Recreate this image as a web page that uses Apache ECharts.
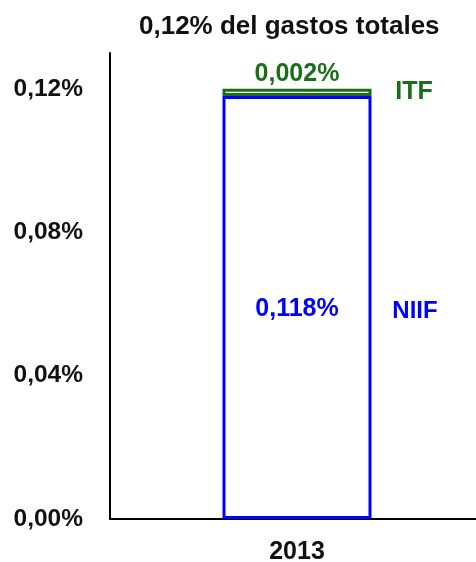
<!DOCTYPE html>
<html><head><meta charset="utf-8">
<script src="https://cdn.jsdelivr.net/npm/echarts@6/dist/echarts.min.js"></script>
<style>html,body{margin:0;padding:0;background:#fff}#c{width:476px;height:562px}</style>
</head><body><div id="c"></div>
<script>
const categories = ['2013'];
const niifValues = [0.118];
const itfValues = [0.002];
const yTicks = [0, 0.04, 0.08, 0.12];
const titleText = '0,12% del gastos totales';

const fmtPct = (v, d) => v.toFixed(d).replace('.', ',') + '%';
const FONT = '"Liberation Sans", Arial, sans-serif';
const BLUE = '#0000FF';
const GREEN = '#1A6E1A';

const chart = echarts.init(document.getElementById('c'), null, {renderer: 'canvas'});
chart.setOption({
  animation: false,
  title: {
    text: titleText, left: 134, top: 9,
    textStyle: {fontFamily: FONT, fontWeight: 'bold', fontSize: 26, color: '#111'}
  },
  grid: {left: 110, width: 374, top: 53, bottom: 43, containLabel: false, outerBoundsMode: 'none'},
  xAxis: {
    type: 'category', data: categories,
    axisLine: {lineStyle: {color: '#000', width: 2}},
    axisTick: {show: false},
    axisLabel: {fontFamily: FONT, fontWeight: 'bold', fontSize: 25, color: '#111', margin: 21}
  },
  yAxis: {
    type: 'value', min: 0, max: 0.13, interval: 0.04,
    axisLine: {show: true, lineStyle: {color: '#000', width: 2}},
    axisTick: {show: false},
    splitLine: {show: false},
    axisLabel: {
      fontFamily: FONT, fontWeight: 'bold', fontSize: 24.5, color: '#111', margin: 27,
      showMaxLabel: false,
      formatter: v => yTicks.some(t => Math.abs(t - v) < 1e-9) ? fmtPct(v, 2) : ''
    }
  },
  series: [
    {
      name: 'NIIF', type: 'bar', stack: 'total', data: niifValues, barWidth: 149,
      itemStyle: {color: '#fff', borderColor: BLUE, borderWidth: 3},
      label: {show: true, position: 'inside', offset: [0, 2], formatter: p => fmtPct(p.value, 3),
        fontFamily: FONT, fontWeight: 'bold', fontSize: 25, color: BLUE},
      markPoint: {
        symbol: 'circle', symbolSize: 0,
        data: [{coord: [categories[0], niifValues[0] / 2], value: 'NIIF'}],
        label: {show: true, position: 'inside', offset: [118, 4], formatter: 'NIIF',
          fontFamily: FONT, fontWeight: 'bold', fontSize: 24, color: BLUE}
      }
    },
    {
      name: 'ITF', type: 'bar', stack: 'total', data: itfValues, barWidth: 149,
      itemStyle: {color: '#fff', borderColor: GREEN, borderWidth: 3},
      label: {show: true, position: 'top', distance: 2, formatter: p => fmtPct(p.value, 3),
        fontFamily: FONT, fontWeight: 'bold', fontSize: 25, color: GREEN},
      markPoint: {
        symbol: 'circle', symbolSize: 0,
        data: [{coord: [categories[0], niifValues[0] + itfValues[0] / 2], value: 'ITF'}],
        label: {show: true, position: 'inside', offset: [117, 0], formatter: 'ITF',
          fontFamily: FONT, fontWeight: 'bold', fontSize: 25, color: GREEN}
      }
    }
  ]
});
</script></body></html>
